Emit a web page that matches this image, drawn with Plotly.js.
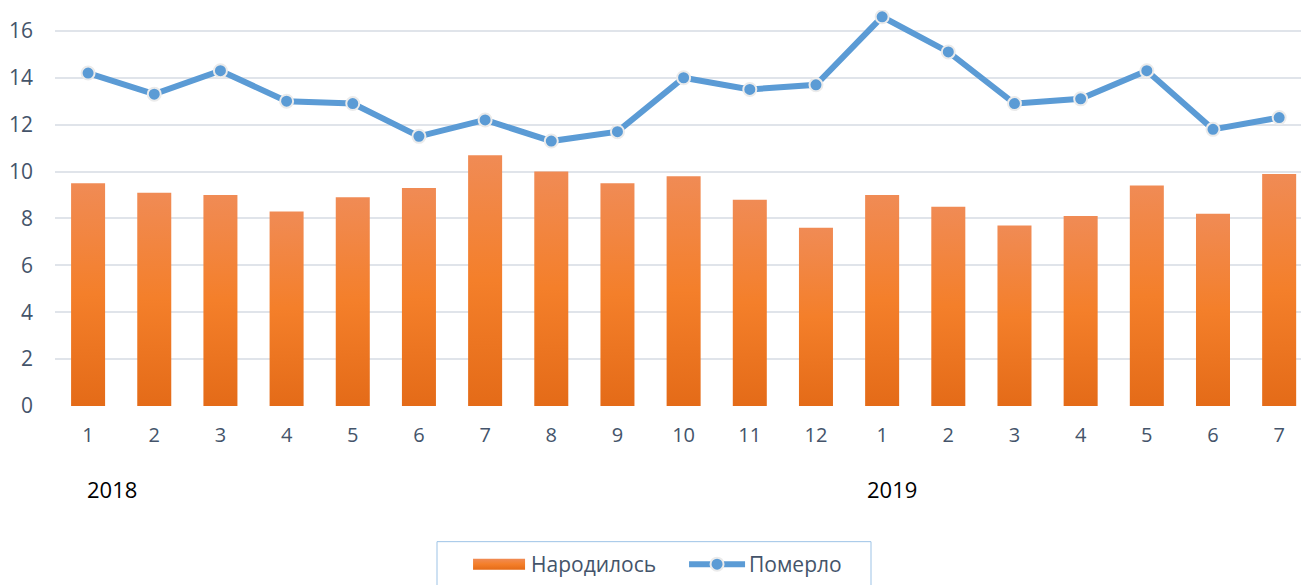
<!DOCTYPE html>
<html>
<head>
<meta charset="utf-8">
<script src="https://cdn.plot.ly/plotly-3.0.1.min.js"></script>
<style>body{margin:0;background:#fff}#chart{width:1301px;height:585px}</style>
</head>
<body>
<div id="chart"></div>
<script>
const months = ['1','2','3','4','5','6','7','8','9','10','11','12','1','2','3','4','5','6','7'];
const years = ['2018','2019'];
const yearStart = [0, 12];
const born = [9.5,9.1,9.0,8.3,8.9,9.3,10.7,10.0,9.5,9.8,8.8,7.6,9.0,8.5,7.7,8.1,9.4,8.2,9.9];
const died = [14.2,13.3,14.3,13.0,12.9,11.5,12.2,11.3,11.7,14.0,13.5,13.7,16.6,15.1,12.9,13.1,14.3,11.8,12.3];
const seriesNames = ['Народилось','Померло'];

const idx = months.map((m,i)=>i);
const font = "'Open Sans', 'Noto Sans', sans-serif";
const tickColor = '#44546a';

const traces = [
  {type:'bar', x:idx, y:born, name:seriesNames[0],
   marker:{color:'#f07d2c'}, hoverinfo:'y'},
  {type:'scatter', mode:'lines+markers', x:idx, y:died, name:seriesNames[1],
   line:{color:'#5b9bd5', width:6},
   marker:{color:'#5b9bd5', size:13, line:{color:'#ebebeb', width:2}}}
];

const layout = {
  width:1301, height:585,
  margin:{l:55, r:0, t:10, b:178},
  paper_bgcolor:'#fff', plot_bgcolor:'#fff',
  bargap:0.486,
  font:{family:font, size:20, color:tickColor},
  xaxis:{range:[-0.5,18.33], tickvals:idx, ticktext:months, showgrid:false,
         zeroline:false, showline:false, ticks:'', ticklabelstandoff:15,
         tickfont:{size:20, color:tickColor}},
  yaxis:{range:[0,16.89], tickvals:[0,2,4,6,8,10,12,14,16], showgrid:true,
         gridcolor:'#e0e4ea', gridwidth:2, zeroline:false, showline:false, ticks:'',
         ticklabelstandoff:21, tickfont:{size:21, color:tickColor}},
  showlegend:true,
  legend:{orientation:'h', x:0.3307, xanchor:'left', y:-0.3500, yanchor:'top',
          borderwidth:0, bgcolor:'rgba(0,0,0,0)', font:{size:21, color:tickColor},
          entrywidth:149, itemwidth:54},
  shapes:[{type:'rect', xref:'paper', yref:'paper',
           x0:(437-55)/1246, x1:(871-55)/1246, y0:-0.5, y1:(407-543)/397,
           line:{color:'#9dc3e6', width:1}, fillcolor:'rgba(0,0,0,0)'}],
  annotations: years.map((y,i)=>({text:y, x:yearStart[i], xref:'x', xanchor:'left',
          xshift: i===0 ? -3 : -17,
          y:-0.209, yref:'paper', yanchor:'middle', showarrow:false,
          font:{size:22, color:'#000', family:font}}))
};

Plotly.newPlot('chart', traces, layout, {displayModeBar:false, staticPlot:true}).then(gd=>{
  const svg = gd.querySelector('svg.main-svg');
  const ns = 'http://www.w3.org/2000/svg';
  let defs = svg.querySelector('defs');
  if(!defs){defs = document.createElementNS(ns,'defs'); svg.insertBefore(defs, svg.firstChild);}
  const g = document.createElementNS(ns,'linearGradient');
  g.setAttribute('id','barGrad'); g.setAttribute('x1','0'); g.setAttribute('y1','0');
  g.setAttribute('x2','0'); g.setAttribute('y2','1');
  [['0','#f08b55'],['0.5','#f47f2a'],['1','#e46b18']].forEach(([o,c])=>{
    const s=document.createElementNS(ns,'stop'); s.setAttribute('offset',o); s.setAttribute('stop-color',c); g.appendChild(s);
  });
  defs.appendChild(g);
  gd.querySelectorAll('.barlayer .point path').forEach(p=>{p.style.fill='url(#barGrad)';});
  // legend symbols
  const legTraces = gd.querySelectorAll('.legend .traces');
  if(legTraces[0]){
    const bp = legTraces[0].querySelector('.legendpoints path');
    if(bp){ bp.setAttribute('d','M26,5.5H-26V-5.5H26Z'); bp.style.fill='url(#barGrad)'; }
  }
  if(legTraces[1]){
    const lp = legTraces[1].querySelector('.legendlines path');
    const mp = legTraces[1].querySelector('.legendpoints path');
    if(lp && mp){
      const d = lp.getAttribute('d');
      const m = /M([-\d.]+),/.exec(d);
      const x0 = m ? parseFloat(m[1]) : 5;
      const lr = lp.getBoundingClientRect();
      const mr = mp.getBoundingClientRect();
      const off = lr.left - x0;
      const mc = (mr.left + mr.right)/2;
      lp.setAttribute('d', 'M' + (mc - 28 - off) + ',0h56');
    }
  }
});
</script>
</body>
</html>
